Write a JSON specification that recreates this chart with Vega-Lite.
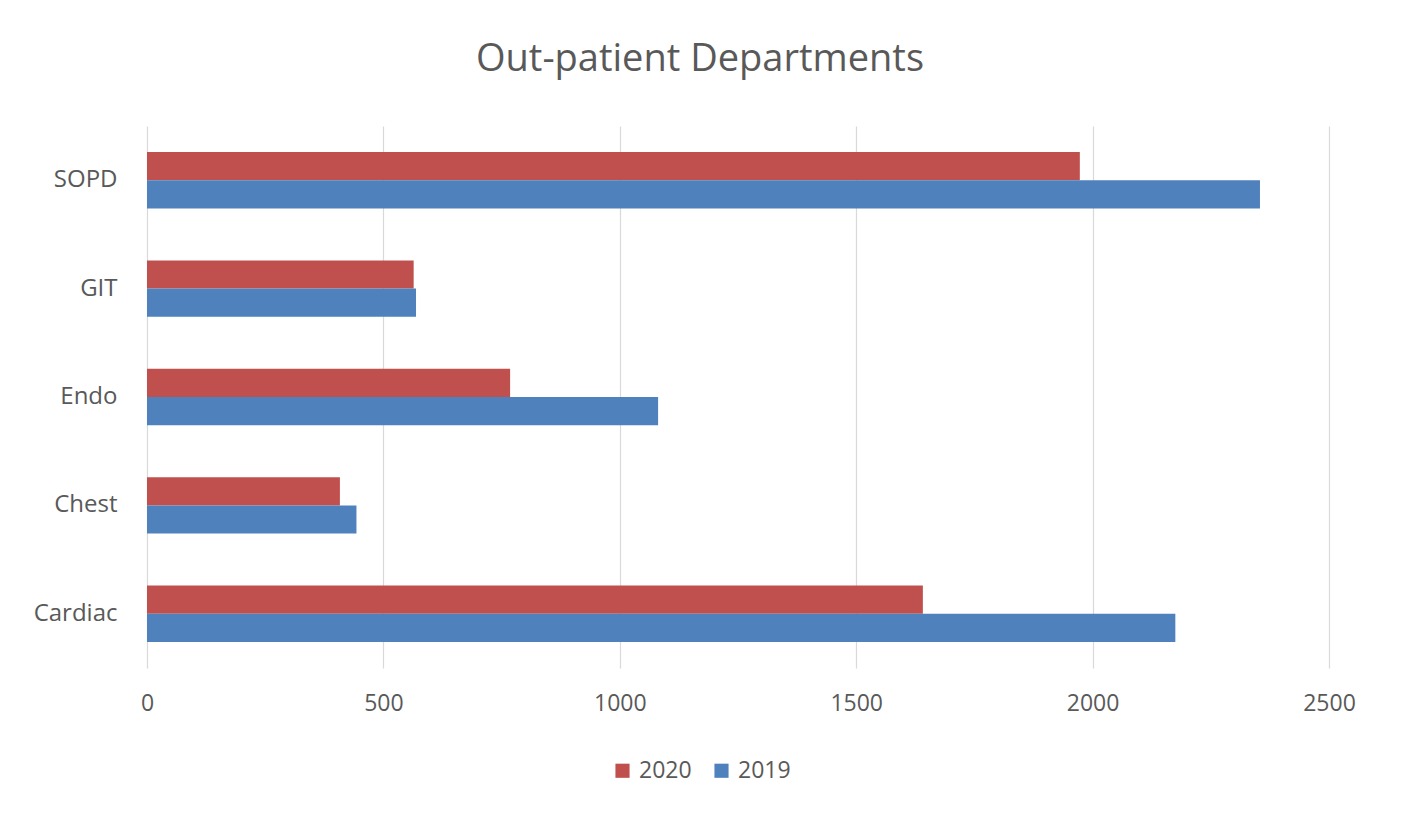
{
  "$schema": "https://vega.github.io/schema/vega-lite/v6.json",
  "autosize": {"type": "none"},
  "padding": {"left": 147, "top": 126, "right": 72, "bottom": 147},
  "width": 1182,
  "height": 542,
  "background": "white",
  "title": {
    "text": "Out-patient Departments",
    "font": "Open Sans",
    "fontSize": 38,
    "fontWeight": "normal",
    "color": "#595959",
    "anchor": "middle",
    "dx": -38,
    "offset": 47
  },
  "data": {
    "values": [
      {"dept": "SOPD", "year": "2020", "value": 1973},
      {"dept": "SOPD", "year": "2019", "value": 2354},
      {"dept": "GIT", "year": "2020", "value": 564},
      {"dept": "GIT", "year": "2019", "value": 569},
      {"dept": "Endo", "year": "2020", "value": 768},
      {"dept": "Endo", "year": "2019", "value": 1081},
      {"dept": "Chest", "year": "2020", "value": 408},
      {"dept": "Chest", "year": "2019", "value": 443},
      {"dept": "Cardiac", "year": "2020", "value": 1641},
      {"dept": "Cardiac", "year": "2019", "value": 2175}
    ]
  },
  "mark": {"type": "bar"},
  "encoding": {
    "y": {
      "field": "dept",
      "type": "nominal",
      "sort": ["SOPD", "GIT", "Endo", "Chest", "Cardiac"],
      "scale": {"paddingInner": 0.48, "paddingOuter": 0.24},
      "axis": {
        "title": null,
        "domain": false,
        "ticks": false,
        "labelPadding": 30,
        "labelFont": "Open Sans",
        "labelFontSize": 24,
        "labelColor": "#595959"
      }
    },
    "yOffset": {
      "field": "year",
      "type": "nominal",
      "sort": ["2020", "2019"],
      "scale": {"paddingInner": 0, "paddingOuter": 0}
    },
    "x": {
      "field": "value",
      "type": "quantitative",
      "scale": {"domain": [0, 2500], "nice": false},
      "axis": {
        "title": null,
        "values": [0, 500, 1000, 1500, 2000, 2500],
        "format": "d",
        "labelFlush": false,
        "domain": false,
        "ticks": false,
        "grid": true,
        "gridColor": "#D9D9D9",
        "gridWidth": 1.2,
        "labelPadding": 24,
        "labelFont": "Open Sans",
        "labelFontSize": 23,
        "labelColor": "#595959"
      }
    },
    "color": {
      "field": "year",
      "type": "nominal",
      "sort": ["2020", "2019"],
      "scale": {"domain": ["2020", "2019"], "range": ["#C0504D", "#4F81BD"]},
      "legend": {
        "title": null,
        "orient": "none",
        "direction": "horizontal",
        "legendX": 464,
        "legendY": 633,
        "symbolType": "square",
        "symbolSize": 200,
        "symbolStrokeWidth": 0,
        "labelFont": "Open Sans",
        "labelFontSize": 23,
        "labelColor": "#595959",
        "columnPadding": 18,
        "labelOffset": 5
      }
    }
  },
  "config": {"view": {"stroke": null}}
}
